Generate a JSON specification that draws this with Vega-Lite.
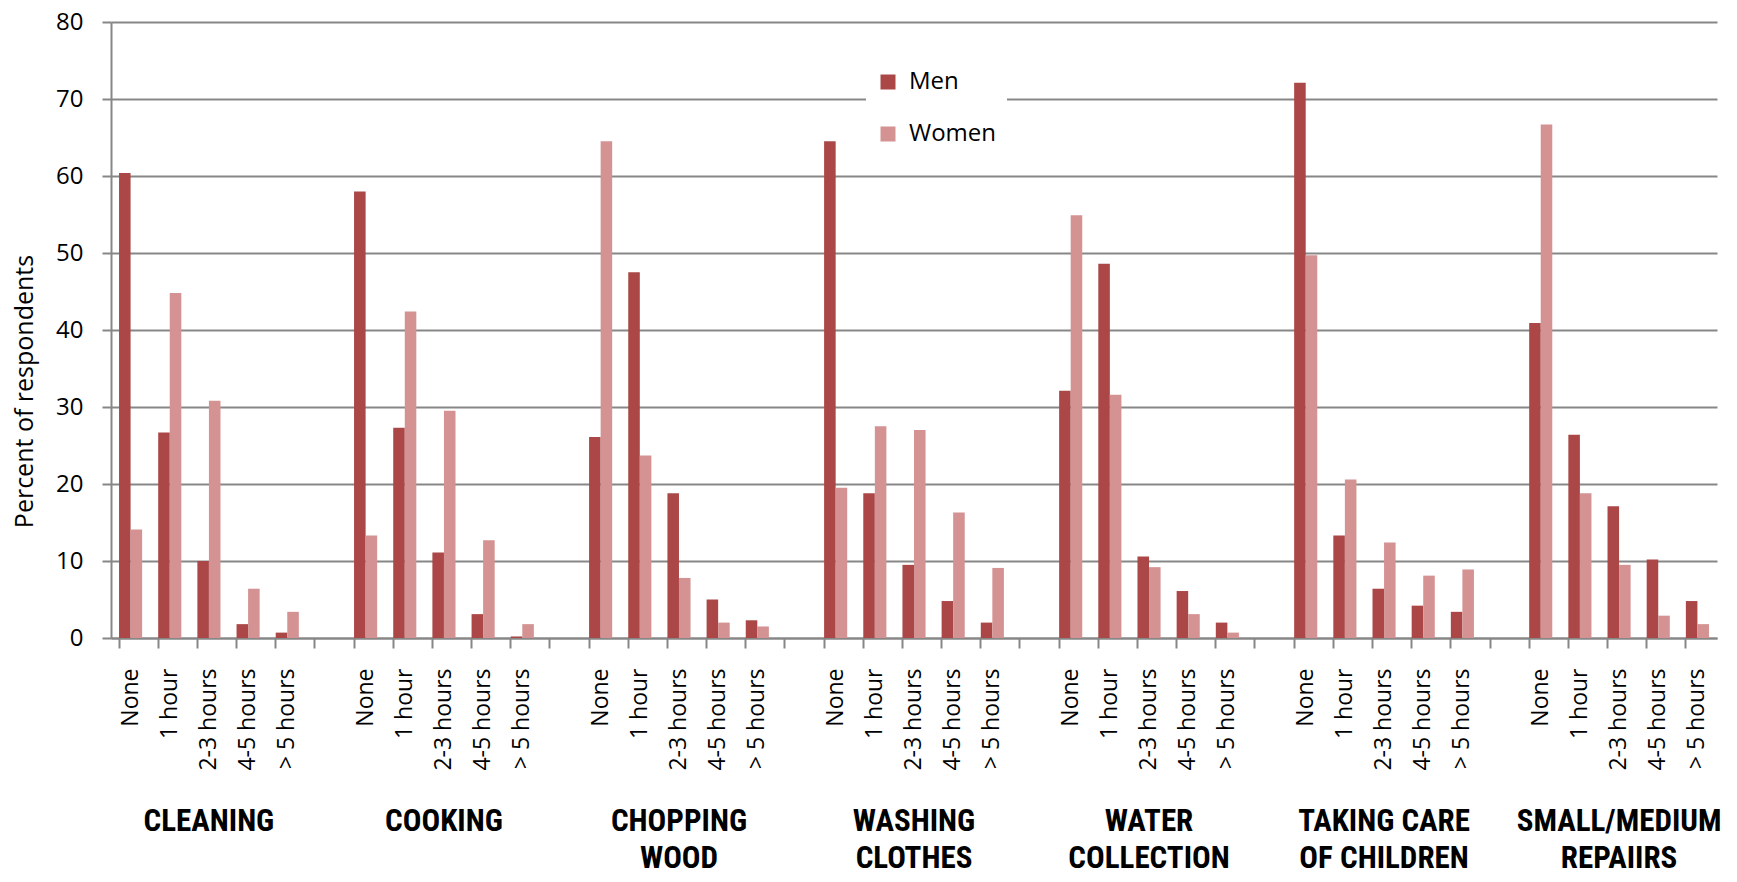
{
"$schema": "https://vega.github.io/schema/vega-lite/v6.json",
"width": 1606,
"height": 616,
"autosize": {"type": "none"},
"padding": {"left": 111, "top": 22, "right": 20, "bottom": 244},
"background": "white",
"data": {"values": [
{"slot":"CLEANING|None","sex":"Men","percent":60.4},{"slot":"CLEANING|None","sex":"Women","percent":14.1},
{"slot":"CLEANING|1 hour","sex":"Men","percent":26.7},{"slot":"CLEANING|1 hour","sex":"Women","percent":44.8},
{"slot":"CLEANING|2-3 hours","sex":"Men","percent":10.0},{"slot":"CLEANING|2-3 hours","sex":"Women","percent":30.8},
{"slot":"CLEANING|4-5 hours","sex":"Men","percent":1.8},{"slot":"CLEANING|4-5 hours","sex":"Women","percent":6.4},
{"slot":"CLEANING|> 5 hours","sex":"Men","percent":0.7},{"slot":"CLEANING|> 5 hours","sex":"Women","percent":3.4},
{"slot":"COOKING|None","sex":"Men","percent":58.0},{"slot":"COOKING|None","sex":"Women","percent":13.3},
{"slot":"COOKING|1 hour","sex":"Men","percent":27.3},{"slot":"COOKING|1 hour","sex":"Women","percent":42.4},
{"slot":"COOKING|2-3 hours","sex":"Men","percent":11.1},{"slot":"COOKING|2-3 hours","sex":"Women","percent":29.5},
{"slot":"COOKING|4-5 hours","sex":"Men","percent":3.1},{"slot":"COOKING|4-5 hours","sex":"Women","percent":12.7},
{"slot":"COOKING|> 5 hours","sex":"Men","percent":0.2},{"slot":"COOKING|> 5 hours","sex":"Women","percent":1.8},
{"slot":"CHOPPING^WOOD|None","sex":"Men","percent":26.1},{"slot":"CHOPPING^WOOD|None","sex":"Women","percent":64.5},
{"slot":"CHOPPING^WOOD|1 hour","sex":"Men","percent":47.5},{"slot":"CHOPPING^WOOD|1 hour","sex":"Women","percent":23.7},
{"slot":"CHOPPING^WOOD|2-3 hours","sex":"Men","percent":18.8},{"slot":"CHOPPING^WOOD|2-3 hours","sex":"Women","percent":7.8},
{"slot":"CHOPPING^WOOD|4-5 hours","sex":"Men","percent":5.0},{"slot":"CHOPPING^WOOD|4-5 hours","sex":"Women","percent":2.0},
{"slot":"CHOPPING^WOOD|> 5 hours","sex":"Men","percent":2.3},{"slot":"CHOPPING^WOOD|> 5 hours","sex":"Women","percent":1.5},
{"slot":"WASHING^CLOTHES|None","sex":"Men","percent":64.5},{"slot":"WASHING^CLOTHES|None","sex":"Women","percent":19.5},
{"slot":"WASHING^CLOTHES|1 hour","sex":"Men","percent":18.8},{"slot":"WASHING^CLOTHES|1 hour","sex":"Women","percent":27.5},
{"slot":"WASHING^CLOTHES|2-3 hours","sex":"Men","percent":9.5},{"slot":"WASHING^CLOTHES|2-3 hours","sex":"Women","percent":27.0},
{"slot":"WASHING^CLOTHES|4-5 hours","sex":"Men","percent":4.8},{"slot":"WASHING^CLOTHES|4-5 hours","sex":"Women","percent":16.3},
{"slot":"WASHING^CLOTHES|> 5 hours","sex":"Men","percent":2.0},{"slot":"WASHING^CLOTHES|> 5 hours","sex":"Women","percent":9.1},
{"slot":"WATER^COLLECTION|None","sex":"Men","percent":32.1},{"slot":"WATER^COLLECTION|None","sex":"Women","percent":54.9},
{"slot":"WATER^COLLECTION|1 hour","sex":"Men","percent":48.6},{"slot":"WATER^COLLECTION|1 hour","sex":"Women","percent":31.6},
{"slot":"WATER^COLLECTION|2-3 hours","sex":"Men","percent":10.6},{"slot":"WATER^COLLECTION|2-3 hours","sex":"Women","percent":9.2},
{"slot":"WATER^COLLECTION|4-5 hours","sex":"Men","percent":6.1},{"slot":"WATER^COLLECTION|4-5 hours","sex":"Women","percent":3.1},
{"slot":"WATER^COLLECTION|> 5 hours","sex":"Men","percent":2.0},{"slot":"WATER^COLLECTION|> 5 hours","sex":"Women","percent":0.7},
{"slot":"TAKING CARE^OF CHILDREN|None","sex":"Men","percent":72.1},{"slot":"TAKING CARE^OF CHILDREN|None","sex":"Women","percent":49.7},
{"slot":"TAKING CARE^OF CHILDREN|1 hour","sex":"Men","percent":13.3},{"slot":"TAKING CARE^OF CHILDREN|1 hour","sex":"Women","percent":20.6},
{"slot":"TAKING CARE^OF CHILDREN|2-3 hours","sex":"Men","percent":6.4},{"slot":"TAKING CARE^OF CHILDREN|2-3 hours","sex":"Women","percent":12.4},
{"slot":"TAKING CARE^OF CHILDREN|4-5 hours","sex":"Men","percent":4.2},{"slot":"TAKING CARE^OF CHILDREN|4-5 hours","sex":"Women","percent":8.1},
{"slot":"TAKING CARE^OF CHILDREN|> 5 hours","sex":"Men","percent":3.4},{"slot":"TAKING CARE^OF CHILDREN|> 5 hours","sex":"Women","percent":8.9},
{"slot":"SMALL/MEDIUM^REPAIIRS|None","sex":"Men","percent":40.9},{"slot":"SMALL/MEDIUM^REPAIIRS|None","sex":"Women","percent":66.7},
{"slot":"SMALL/MEDIUM^REPAIIRS|1 hour","sex":"Men","percent":26.4},{"slot":"SMALL/MEDIUM^REPAIIRS|1 hour","sex":"Women","percent":18.8},
{"slot":"SMALL/MEDIUM^REPAIIRS|2-3 hours","sex":"Men","percent":17.1},{"slot":"SMALL/MEDIUM^REPAIIRS|2-3 hours","sex":"Women","percent":9.5},
{"slot":"SMALL/MEDIUM^REPAIIRS|4-5 hours","sex":"Men","percent":10.2},{"slot":"SMALL/MEDIUM^REPAIIRS|4-5 hours","sex":"Women","percent":2.9},
{"slot":"SMALL/MEDIUM^REPAIIRS|> 5 hours","sex":"Men","percent":4.8},{"slot":"SMALL/MEDIUM^REPAIIRS|> 5 hours","sex":"Women","percent":1.8}
]},
"encoding": {
  "y": {"field": "percent", "type": "quantitative",
    "scale": {"domain": [0, 80], "nice": false},
    "axis": {"values": [0,10,20,30,40,50,60,70,80], "grid": true, "gridColor": "#878787", "gridWidth": 2,
      "domainColor": "#878787", "domainWidth": 2, "tickColor": "#878787", "tickWidth": 2, "tickSize": 9,
      "labelPadding": 19, "labelFont": "Open Sans", "labelFontSize": 24, "labelColor": "#000000",
      "title": "Percent of respondents", "titleFont": "Open Sans", "titleFontSize": 25, "titleFontWeight": "normal",
      "titleColor": "#000000", "titleX": -87, "titleY": 369, "titleAngle": -90, "titleBaseline": "middle", "titleAlign": "center"}}
},
"layer": [
  {"mark": {"type": "bar"},
   "encoding": {
     "x": {"field": "slot", "type": "nominal",
       "scale": {"domain": [
         "CLEANING|None","CLEANING|1 hour","CLEANING|2-3 hours","CLEANING|4-5 hours","CLEANING|> 5 hours","gap1",
         "COOKING|None","COOKING|1 hour","COOKING|2-3 hours","COOKING|4-5 hours","COOKING|> 5 hours","gap2",
         "CHOPPING^WOOD|None","CHOPPING^WOOD|1 hour","CHOPPING^WOOD|2-3 hours","CHOPPING^WOOD|4-5 hours","CHOPPING^WOOD|> 5 hours","gap3",
         "WASHING^CLOTHES|None","WASHING^CLOTHES|1 hour","WASHING^CLOTHES|2-3 hours","WASHING^CLOTHES|4-5 hours","WASHING^CLOTHES|> 5 hours","gap4",
         "WATER^COLLECTION|None","WATER^COLLECTION|1 hour","WATER^COLLECTION|2-3 hours","WATER^COLLECTION|4-5 hours","WATER^COLLECTION|> 5 hours","gap5",
         "TAKING CARE^OF CHILDREN|None","TAKING CARE^OF CHILDREN|1 hour","TAKING CARE^OF CHILDREN|2-3 hours","TAKING CARE^OF CHILDREN|4-5 hours","TAKING CARE^OF CHILDREN|> 5 hours","gap6",
         "SMALL/MEDIUM^REPAIIRS|None","SMALL/MEDIUM^REPAIIRS|1 hour","SMALL/MEDIUM^REPAIIRS|2-3 hours","SMALL/MEDIUM^REPAIIRS|4-5 hours","SMALL/MEDIUM^REPAIIRS|> 5 hours"],
         "paddingInner": 0.41, "paddingOuter": 0.205},
       "axis": {"orient": "bottom", "domain": false, "ticks": false, "grid": false, "title": null,
         "labelAngle": -90, "labelPadding": 30, "labelFont": "Open Sans", "labelFontSize": 23, "labelColor": "#000000",
         "labelOverlap": false, "labelBound": false,
         "labelExpr": "indexof(datum.value, '|') >= 0 ? split(datum.value, '|')[1] : ''"}},
     "xOffset": {"field": "sex", "type": "nominal", "scale": {"domain": ["Men", "Women"], "paddingInner": 0}},
     "color": {"field": "sex", "type": "nominal",
       "scale": {"domain": ["Men", "Women"], "range": ["#AB4747", "#D49292"]},
       "legend": {"orient": "none", "legendX": 755, "legendY": 38, "title": null, "fillColor": "#ffffff",
         "padding": 10, "symbolType": "square", "symbolSize": 225, "symbolStrokeWidth": 0, "symbolOpacity": 1,
         "labelFont": "Open Sans", "labelFontSize": 24, "labelColor": "#000000", "rowPadding": 28, "labelOffset": 9}}
   }},
  {"mark": {"type": "bar", "opacity": 0},
   "encoding": {
     "x": {"field": "slot", "type": "nominal",
       "axis": {"orient": "bottom", "domain": true, "domainColor": "#878787", "domainWidth": 2,
         "ticks": true, "tickColor": "#878787", "tickWidth": 2, "tickSize": 10, "bandPosition": 0,
         "grid": false, "title": null, "labelAngle": 0, "labelAlign": "center", "labelBaseline": "top",
         "labelOffset": 0, "labelPadding": 158, "labelFont": "Roboto Condensed, Liberation Sans Narrow, Roboto",
         "labelFontWeight": "bold", "labelFontSize": 31, "labelLineHeight": 37, "labelLimit": 500, "labelColor": "#000000",
         "labelOverlap": false, "labelBound": false,
         "labelExpr": "indexof(datum.value, '|2-3 hours') >= 0 ? split(split(datum.value, '|')[0], '^') : ''"}},
     "xOffset": {"field": "sex", "type": "nominal"}
   }}
],
"resolve": {"axis": {"x": "independent"}},
"config": {"view": {"stroke": null}}
}
